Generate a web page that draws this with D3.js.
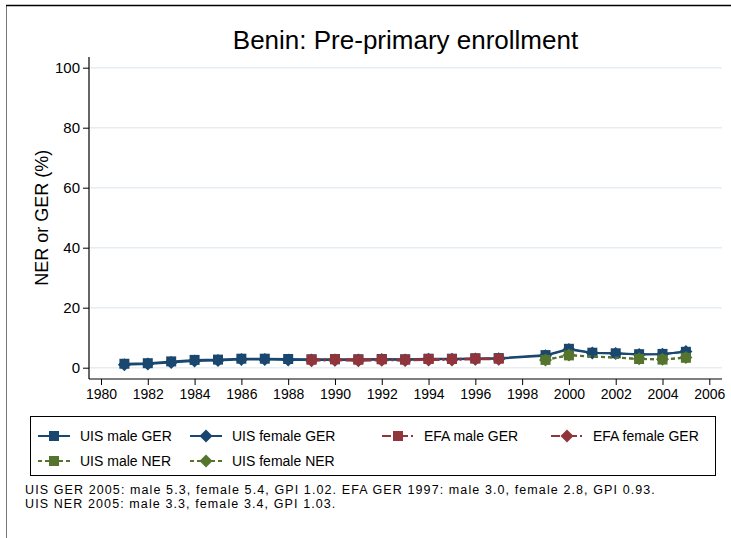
<!DOCTYPE html>
<html>
<head>
<meta charset="utf-8">
<script src="https://cdn.jsdelivr.net/npm/d3@7"></script>
<style>
  body { margin: 0; background: #fff; overflow: hidden; }
  svg { display: block; font-family: "Liberation Sans", Arial, sans-serif; }
</style>
</head>
<body>
<div class="chart"></div>
<script>
// values
var uisYears = [1981, 1982, 1983, 1984, 1985, 1986, 1987, 1988, 1989, 1990, 1991, 1992,
  1993, 1994, 1995, 1996, 1997, 1999, 2000, 2001, 2002, 2003, 2004, 2005];
var uisMaleGER = [1.3, 1.5, 2.1, 2.6, 2.7, 3.0, 3.0, 2.9, 2.8, 2.8, 2.8, 2.9,
  2.8, 3.0, 3.0, 3.1, 3.2, 4.2, 6.3, 5.0, 4.8, 4.5, 4.6, 5.3];
var uisFemaleGER = [1.0, 1.2, 1.7, 2.2, 2.4, 2.7, 2.7, 2.6, 2.6, 2.6, 2.6, 2.7,
  2.6, 2.8, 2.8, 2.9, 3.0, 4.0, 6.1, 4.9, 4.7, 4.4, 4.5, 5.4];
var efaYears = [1989, 1990, 1991, 1992, 1993, 1994, 1995, 1996, 1997];
var efaMaleGER = [2.7, 2.9, 2.7, 2.8, 2.7, 2.9, 2.9, 3.1, 3.0];
var efaFemaleGER = [2.3, 2.5, 2.3, 2.5, 2.4, 2.6, 2.6, 2.8, 2.8];
var nerYears = [1999, 2000, 2003, 2004, 2005];
var uisMaleNER = [2.6, 4.1, 2.9, 2.7, 3.3];
var uisFemaleNER = [2.6, 4.2, 3.0, 2.8, 3.4];

var yTicks = [0, 20, 40, 60, 80, 100];
var xTicks = d3.range(1980, 2007, 2);

var title = "Benin: Pre-primary enrollment";
var yTitle = "NER or GER (%)";
var notes = [
  "UIS GER 2005: male 5.3, female 5.4, GPI 1.02. EFA GER 1997: male 3.0, female 2.8, GPI 0.93.",
  "UIS NER 2005: male 3.3, female 3.4, GPI 1.03."
];

var navy = "#1a476f", maroon = "#90353b", green = "#55752f";

var series = [
  { name: "UIS male GER", years: uisYears, values: uisMaleGER, color: navy, shape: "square", dash: null },
  { name: "UIS female GER", years: uisYears, values: uisFemaleGER, color: navy, shape: "diamond", dash: null },
  { name: "EFA male GER", years: efaYears, values: efaMaleGER, color: maroon, shape: "square", dash: "9,3,2,3" },
  { name: "EFA female GER", years: efaYears, values: efaFemaleGER, color: maroon, shape: "diamond", dash: "9,3,2,3" },
  { name: "UIS male NER", years: nerYears, values: uisMaleNER, color: green, shape: "square", dash: "4,3" },
  { name: "UIS female NER", years: nerYears, values: uisFemaleNER, color: green, shape: "diamond", dash: "4,3" }
];

var W = 731, H = 538;
var plot = { left: 89, right: 722, top: 57, bottom: 379 };

var svg = d3.select(".chart").append("svg")
  .attr("width", W)
  .attr("height", H);

// outer frame (cut off on right and bottom)
svg.append("line")
  .attr("x1", 6.5).attr("x2", 6.5).attr("y1", 5).attr("y2", H)
  .attr("stroke", "#777").attr("stroke-width", 1);
svg.append("line")
  .attr("x1", 6).attr("x2", W).attr("y1", 5.5).attr("y2", 5.5)
  .attr("stroke", "#000").attr("stroke-width", 1.5);

var x = d3.scaleLinear().domain([1980, 2006]).range([101, 709.3]);
var y = d3.scaleLinear().domain([0, 100]).range([367.7, 67.7]);

// gridlines
svg.append("g")
  .selectAll("line")
  .data(yTicks)
  .join("line")
  .attr("x1", plot.left).attr("x2", plot.right)
  .attr("y1", (d) => y(d)).attr("y2", (d) => y(d))
  .attr("stroke", "#e6eef2").attr("stroke-width", 1.5);

// y axis
var yAxis = svg.append("g")
  .attr("transform", `translate(${plot.left}, 0)`)
  .call(d3.axisLeft(y).tickValues(yTicks).tickSize(6).tickPadding(3));
yAxis.select(".domain").remove();
yAxis.selectAll("text").attr("font-size", 15).attr("fill", "#000").attr("font-family", "Liberation Sans, Arial, sans-serif");
yAxis.selectAll(".tick line").attr("stroke", "#000");
svg.append("line")
  .attr("x1", plot.left).attr("x2", plot.left)
  .attr("y1", plot.top).attr("y2", plot.bottom)
  .attr("stroke", "#000").attr("stroke-width", 1.2);

// x axis
var xAxis = svg.append("g")
  .attr("transform", `translate(0, ${plot.bottom})`)
  .call(d3.axisBottom(x).tickValues(xTicks).tickFormat(d3.format("d")).tickSize(6).tickPadding(4));
xAxis.select(".domain").remove();
xAxis.selectAll("text").attr("font-size", 14).attr("fill", "#000").attr("font-family", "Liberation Sans, Arial, sans-serif");
xAxis.selectAll(".tick line").attr("stroke", "#000");
svg.append("line")
  .attr("x1", plot.left).attr("x2", plot.right)
  .attr("y1", plot.bottom).attr("y2", plot.bottom)
  .attr("stroke", "#000").attr("stroke-width", 1.2);

// titles
svg.append("text")
  .attr("x", (plot.left + plot.right) / 2).attr("y", 49)
  .attr("text-anchor", "middle").attr("font-size", 26)
  .text(title);
svg.append("text")
  .attr("transform", `translate(48, ${(y(0) + y(100)) / 2}) rotate(-90)`)
  .attr("text-anchor", "middle").attr("font-size", 18)
  .text(yTitle);

function markerPath(shape, cx, cy) {
  if (shape === "square") {
    var s = 5;
    return `M${cx - s},${cy - s}h${2 * s}v${2 * s}h${-2 * s}z`;
  }
  var r = 6.5;
  return `M${cx},${cy - r}L${cx + r},${cy}L${cx},${cy + r}L${cx - r},${cy}z`;
}

var line = d3.line().x((d) => x(d[0])).y((d) => y(d[1]));

series.forEach(function (s) {
  var pts = s.years.map((yr, i) => [yr, s.values[i]]);
  svg.append("path")
    .datum(pts)
    .attr("d", line)
    .attr("fill", "none")
    .attr("stroke", s.color)
    .attr("stroke-width", 2)
    .attr("stroke-dasharray", s.dash);
  svg.append("g")
    .selectAll("path")
    .data(pts)
    .join("path")
    .attr("d", (d) => markerPath(s.shape, x(d[0]), y(d[1])))
    .attr("fill", s.color);
});

// legend
var lg = svg.append("g");
lg.append("rect")
  .attr("x", 30.5).attr("y", 416.5)
  .attr("width", 685).attr("height", 59)
  .attr("fill", "#fff").attr("stroke", "#000").attr("stroke-width", 1);

var legendPos = [
  { x: 38, y: 436 }, { x: 190, y: 436 }, { x: 382, y: 436 }, { x: 551, y: 436 },
  { x: 38, y: 461 }, { x: 190, y: 461 }
];

series.forEach(function (s, i) {
  var p = legendPos[i];
  var g = lg.append("g");
  g.append("line")
    .attr("x1", p.x).attr("x2", p.x + 32)
    .attr("y1", p.y).attr("y2", p.y)
    .attr("stroke", s.color).attr("stroke-width", 2)
    .attr("stroke-dasharray", s.dash);
  g.append("path")
    .attr("d", markerPath(s.shape, p.x + 16, p.y))
    .attr("fill", s.color);
  g.append("text")
    .attr("x", p.x + 42).attr("y", p.y + 5)
    .attr("font-size", 14)
    .text(s.name);
});

// notes
svg.append("g")
  .selectAll("text")
  .data(notes)
  .join("text")
  .attr("x", 25)
  .attr("y", (d, i) => 494 + i * 14)
  .attr("font-size", 12.5)
  .attr("letter-spacing", 1.1)
  .text((d) => d);
</script>
</body>
</html>
